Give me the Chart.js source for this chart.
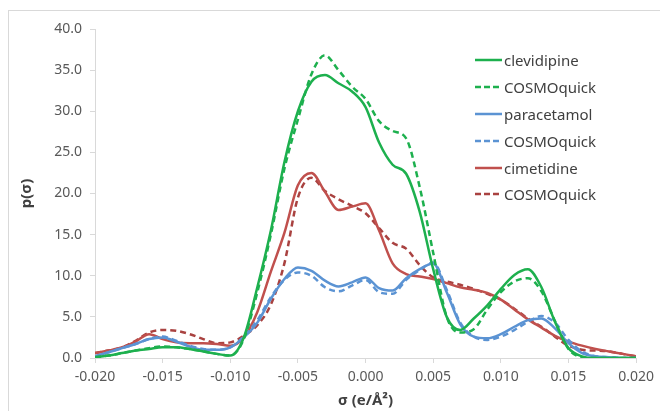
<!DOCTYPE html>
<html>
<head>
<meta charset="utf-8">
<script src="https://cdn.jsdelivr.net/npm/chart.js@4.4.1/dist/chart.umd.min.js"></script>
<style>
	html, body { margin: 0; padding: 0; background: #fff; overflow: hidden; }
	#wrap { position: relative; width: 660px; height: 411px; }
	#frame { position: absolute; left: 8px; top: 10px; width: 700px; height: 500px; border: 1px solid #d9d9d9; }
	#chart { position: absolute; left: 0; top: 0; }
	#legend { position: absolute; left: 475px; top: 47px; font-family: "Noto Sans", sans-serif; font-size: 15px; color: #404040; }
	.row { height: 26.8px; display: flex; align-items: center; }
	.row svg { margin-right: 2px; }
</style>
</head>
<body>
<div id="wrap">
	<div id="frame"></div>
	<canvas id="chart" width="660" height="411"></canvas>
	<div id="legend"></div>
</div>
<script>
// sigma values (e/Å²)
const sigma = [
	-0.020, -0.019, -0.018, -0.017, -0.016, -0.015, -0.014, -0.013, -0.012, -0.011,
	-0.010, -0.009, -0.008, -0.007, -0.006, -0.005, -0.004, -0.003, -0.002, -0.001,
	0.000, 0.001, 0.002, 0.003, 0.004, 0.005, 0.006, 0.007, 0.008, 0.009,
	0.010, 0.011, 0.012, 0.013, 0.014, 0.015, 0.016, 0.017, 0.018, 0.019, 0.020,
];

const clevidipine = [
	0.1, 0.3, 0.6, 0.9, 1.1, 1.3, 1.3, 1.1, 0.8, 0.5,
	0.3, 2.5, 8.6, 15.5, 23.8, 30.0, 33.6, 34.4, 33.4, 32.4,
	30.5, 26.2, 23.5, 22.4, 17.8, 10.8, 5.0, 3.4, 4.8, 6.4,
	8.4, 10.1, 10.8, 8.6, 4.4, 1.2, 0.2, 0.0, 0.0, 0.0, 0.0,
];
const clevidipineQ = [
	0.1, 0.3, 0.6, 0.9, 1.2, 1.4, 1.3, 1.1, 0.8, 0.5,
	0.3, 2.3, 8.0, 15.0, 23.0, 29.0, 34.5, 36.8, 35.0, 33.0,
	31.5, 28.8, 27.6, 26.7, 20.8, 12.8, 5.0, 3.1, 3.5, 5.9,
	8.0, 9.3, 9.7, 8.1, 4.5, 1.1, 0.1, 0.0, 0.0, 0.0, 0.0,
];
const paracetamol = [
	0.2, 0.7, 1.2, 1.7, 2.3, 2.5, 2.0, 1.4, 1.0, 1.0,
	1.3, 2.5, 4.3, 7.2, 9.6, 11.0, 10.6, 9.4, 8.7, 9.2,
	9.8, 8.5, 8.2, 9.7, 10.8, 11.5, 8.0, 4.1, 2.6, 2.4,
	2.9, 3.8, 4.6, 4.8, 3.6, 1.8, 0.6, 0.2, 0.1, 0.0, 0.0,
];
const paracetamolQ = [
	0.2, 0.7, 1.2, 1.7, 2.3, 2.6, 2.1, 1.5, 1.1, 1.0,
	1.3, 2.6, 4.6, 7.4, 9.5, 10.4, 10.0, 8.6, 8.1, 8.8,
	9.5, 8.0, 7.8, 9.5, 10.7, 11.6, 8.3, 4.3, 2.6, 2.2,
	2.6, 3.4, 4.4, 5.1, 4.3, 2.2, 0.8, 0.2, 0.1, 0.0, 0.0,
];
const cimetidine = [
	0.6, 0.9, 1.3, 2.0, 2.9, 2.3, 1.9, 1.8, 1.8, 1.7,
	1.5, 2.5, 5.6, 10.5, 15.2, 21.0, 22.5, 20.2, 18.0, 18.4,
	18.8, 15.5, 11.5, 10.2, 9.9, 9.6, 9.1, 8.6, 8.3, 7.9,
	7.1, 5.9, 4.7, 3.7, 2.7, 2.0, 1.5, 1.1, 0.8, 0.5, 0.2,
];
const cimetidineQ = [
	0.6, 0.9, 1.3, 2.1, 3.1, 3.4, 3.3, 2.9, 2.3, 1.8,
	1.9, 2.7, 4.0, 6.5, 11.5, 19.5, 21.9, 20.3, 19.3, 18.5,
	17.6, 15.8, 14.0, 13.3, 11.3, 9.8, 9.3, 8.9, 8.4, 7.8,
	7.1, 6.0, 4.8, 3.8, 2.6, 1.5, 1.0, 0.9, 0.8, 0.5, 0.2,
];

const xTicks = [-0.020, -0.015, -0.010, -0.005, 0.000, 0.005, 0.010, 0.015, 0.020];

const GREEN = "#1db04e";
const BLUE = "#5b93d3";
const RED = "#c0504d";
const DARKRED = "#a94240";

const series = [
	{ label: "clevidipine", values: clevidipine, color: GREEN, dash: [] },
	{ label: "COSMOquick", values: clevidipineQ, color: GREEN, dash: [6, 4] },
	{ label: "paracetamol", values: paracetamol, color: BLUE, dash: [] },
	{ label: "COSMOquick", values: paracetamolQ, color: BLUE, dash: [6, 4] },
	{ label: "cimetidine", values: cimetidine, color: RED, dash: [] },
	{ label: "COSMOquick", values: cimetidineQ, color: DARKRED, dash: [6, 4] },
];

// 凡例はHTMLで描く
const legend = document.getElementById("legend");
series.forEach((s) => {
	const row = document.createElement("div");
	row.className = "row";
	const da = s.dash.length ? 'stroke-dasharray="6 3"' : "";
	row.innerHTML = `<svg width="27" height="6"><line x1="0" y1="3" x2="27" y2="3" stroke="${s.color}" stroke-width="2.5" ${da}/></svg><span>${s.label}</span>`;
	legend.appendChild(row);
});

const tickFont = { family: "'Noto Sans', sans-serif", size: 14 };
const titleFont = { family: "'Noto Sans', sans-serif", size: 15, weight: "bold" };

new Chart(document.getElementById("chart"), {
	type: "line",
	data: {
		datasets: series.map((s) => ({
			label: s.label,
			data: sigma.map((x, i) => ({ x: x, y: s.values[i] })),
			borderColor: s.color,
			borderWidth: 2.5,
			borderDash: s.dash,
			pointRadius: 0,
			fill: false,
			cubicInterpolationMode: "monotone",
		})),
	},
	options: {
		responsive: false,
		animation: false,
		layout: { padding: { top: 29, right: 23, left: 0, bottom: 0 } },
		plugins: { legend: { display: false }, tooltip: { enabled: false } },
		scales: {
			x: {
				type: "linear",
				min: -0.02,
				max: 0.02,
				afterFit: (scale) => { scale.height = 53; },
				afterBuildTicks: (scale) => { scale.ticks = xTicks.map((v) => ({ value: v })); },
				ticks: {
					color: "#595959",
					font: tickFont,
					padding: 6,
					maxRotation: 0,
					callback: (v) => v.toFixed(3),
				},
				grid: { display: true, drawOnChartArea: false, tickLength: 5, color: "#d9d9d9" },
				border: { display: true, color: "#d9d9d9", width: 1 },
				title: { display: true, text: "σ (e/Å²)", color: "#404040", font: titleFont, padding: { top: 0, bottom: 1 } },
			},
			y: {
				min: 0,
				max: 40,
				afterFit: (scale) => { scale.width = 95; },
				ticks: {
					stepSize: 5,
					color: "#595959",
					font: tickFont,
					padding: 8,
					callback: (v) => v.toFixed(1),
				},
				grid: { display: true, drawOnChartArea: false, tickLength: 5, color: "#d9d9d9" },
				border: { display: true, color: "#d9d9d9", width: 1 },
				title: { display: true, text: "p(σ)", color: "#404040", font: titleFont, padding: { top: 18, bottom: 0 } },
			},
		},
	},
});
</script>
</body>
</html>
